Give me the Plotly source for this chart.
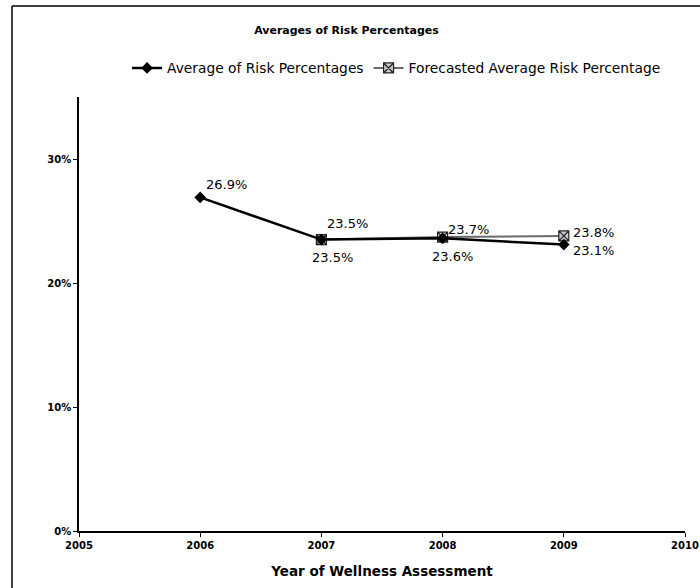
import plotly.graph_objects as go

years_avg = [2006, 2007, 2008, 2009]
avg_values = [0.269, 0.235, 0.236, 0.231]
years_fc = [2007, 2008, 2009]
fc_values = [0.235, 0.237, 0.238]
y_ticks = [0, 0.1, 0.2, 0.3]
y_tick_labels = ["0%", "10%", "20%", "30%"]
x_ticks = [2005, 2006, 2007, 2008, 2009, 2010]

# label offsets (px): (xshift, yshift) with left-anchored text
avg_offsets = [(4, 13), (-11, -18), (-13, -18), (7, -6)]
fc_offsets = [(4, 16), (3, 8), (7, 3)]

W, H = 700, 588
L, R, T, B = 79, 685, 97, 531
pw, ph = R - L, B - T

fig = go.Figure()
fig.add_trace(go.Scatter(
    x=years_fc, y=fc_values, name="Forecasted Average Risk Percentage",
    mode="lines+markers",
    line=dict(color="#6a6a6a", width=2),
    marker=dict(symbol="square-x", size=10, color="#c8c8c8", line=dict(color="#222", width=1.2)),
    cliponaxis=False, legendrank=2,
))
fig.add_trace(go.Scatter(
    x=years_avg, y=avg_values, name="Average of Risk Percentages",
    mode="lines+markers",
    line=dict(color="#000", width=2.5),
    marker=dict(symbol="diamond", size=9, color="#000"),
    cliponaxis=False, legendrank=1,
))

for xs, ys, offs in ((years_avg, avg_values, avg_offsets), (years_fc, fc_values, fc_offsets)):
    for x, y, (dx, dy) in zip(xs, ys, offs):
        fig.add_annotation(x=x, y=y, text=f"{y*100:.1f}%", showarrow=False,
                           xanchor="left", yanchor="middle", xshift=dx, yshift=dy,
                           font=dict(family="DejaVu Sans", size=13, color="#000"))

fig.update_layout(
    width=W, height=H,
    margin=dict(l=L, r=W - R, t=T, b=H - B, autoexpand=False),
    paper_bgcolor="white", plot_bgcolor="white",
    font=dict(family="DejaVu Sans", color="#000"),
    title=dict(text="<b>Averages of Risk Percentages</b>", x=0.495, xanchor="center",
               y=1 - 30 / H, yanchor="middle", font=dict(size=11, color="#000")),
    legend=dict(orientation="h", x=0.524, xanchor="center", y=1 - 68 / H, yref="container",
                yanchor="middle", font=dict(size=13.8, color="#000"), traceorder="normal",
                itemwidth=30, bgcolor="rgba(0,0,0,0)"),
    showlegend=True,
)
fig.update_xaxes(
    range=[2005, 2010], tickvals=x_ticks, ticktext=[str(t) for t in x_ticks],
    showgrid=False, zeroline=False, showline=True, linecolor="#000", linewidth=1.5,
    ticks="outside", ticklen=4, tickcolor="#000", automargin=False,
    tickfont=dict(family="DejaVu Sans", size=10, color="#000", weight="bold"),
    title=dict(text="<b>Year of Wellness Assessment</b>", font=dict(size=13.5, color="#000"), standoff=17),
)
fig.update_yaxes(
    range=[0, 0.35], tickvals=y_ticks, ticktext=y_tick_labels,
    showgrid=False, zeroline=False, showline=True, linecolor="#000", linewidth=1.5,
    ticks="outside", ticklen=4, tickcolor="#000", automargin=False,
    tickfont=dict(family="DejaVu Sans", size=10, color="#000", weight="bold"),
)
# outer frame (left and top edges)
fig.add_shape(type="line", xref="paper", yref="paper",
              x0=(12 - L) / pw, x1=(12 - L) / pw, y0=(B - 6) / ph, y1=(B - 600) / ph,
              line=dict(color="#000", width=1.5))
fig.add_shape(type="line", xref="paper", yref="paper",
              x0=(12 - L) / pw, x1=(720 - L) / pw, y0=(B - 6) / ph, y1=(B - 6) / ph,
              line=dict(color="#000", width=1.5))

fig.write_html("out.html", config={"displayModeBar": False},
               post_script="document.body.style.margin='0';")
